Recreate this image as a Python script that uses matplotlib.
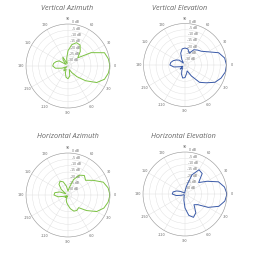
import numpy as np
import matplotlib
matplotlib.use("Agg")
import matplotlib.pyplot as plt

angles_deg = list(range(0, 360, 10))

vert_azimuth = [0, -0.8, -2.5, -12, -23, -18, -14, -13.5, -16, -21,
                -27, -31, -25, -27, -31, -25, -23, -21.5, -21, -23,
                -28, -32, -29, -28, -30, -27, -24, -23, -25, -30,
                -27, -22, -15, -7, -2.5, -0.8]
vert_elevation = [0, -1, -4.5, -12, -16, -17.5, -19, -23, -20, -19.5,
                  -20, -23, -28, -31, -27, -25, -23, -21.5, -21, -24,
                  -29, -31, -28, -30, -28, -25, -22.5, -23, -26, -28,
                  -23, -15, -11, -5.5, -2.5, -0.5]
horiz_azimuth = [0, -1, -3.5, -10, -15, -13, -15, -20, -27, -30,
                 -26, -22, -20.5, -22, -26, -31, -26, -22.5, -22, -25,
                 -30, -32, -30, -31, -32, -29, -27, -25, -22, -19.5,
                 -19, -20, -14, -7, -3, -1]
horiz_elevation = [0, -1.5, -5, -13, -19, -12, -11, -17, -27, -31,
                   -32, -32, -32, -32, -31, -29, -26, -23.5, -23, -26,
                   -30, -32, -32, -32, -32, -31, -28, -22, -16, -13.5,
                   -16, -22, -20, -12, -4.7, -1.2]

titles = ["Vertical Azimuth", "Vertical Elevation", "Horizontal Azimuth", "Horizontal Elevation"]
series = [vert_azimuth, vert_elevation, horiz_azimuth, horiz_elevation]
colors = ["#7cc243", "#3a5aa8", "#7cc243", "#3a5aa8"]

r_ticks = [0, -5, -10, -15, -20, -25, -30]
r_labels = ["0 dB", "-5 dB", "-10 dB", "-15 dB", "-20 dB", "-25 dB", "-30 dB"]
theta_ticks = [0, 30, 60, 90, 120, 150, 180, 210, 240, 270, 300, 330]
theta_labels = ["0", "30", "60", "90", "120", "150", "180", "-150", "-120", "-90", "-60", "-30"]

W = 259.0
layout = [(68, 66, 42), (185, 65, 41.5), (68, 195, 42), (185, 194, 42)]
title_pos = [(67, 8), (180, 8), (68, 137), (183, 137)]

fig = plt.figure(figsize=(2.59, 2.59), dpi=100)
fig.patch.set_facecolor("white")

for i in range(4):
    cx, cy, r = layout[i]
    ax = fig.add_axes([(cx - r) / W, (W - cy - r) / W, 2 * r / W, 2 * r / W], projection="polar")
    th = np.deg2rad(angles_deg + [angles_deg[0]])
    vals = series[i] + [series[i][0]]
    ax.plot(th, vals, color=colors[i], lw=0.7)
    ax.set_ylim(-33, 0)
    ax.set_yticks(r_ticks)
    ax.set_yticklabels(r_labels, fontsize=2.2, color="#666666")
    ax.set_rlabel_position(84)
    ax.set_thetagrids(theta_ticks, theta_labels, fontsize=2.4, color="#666666")
    ax.tick_params(axis="x", pad=-7)
    ax.grid(True, color="#dddddd", lw=0.3)
    ax.spines["polar"].set_color("#999999")
    ax.spines["polar"].set_linewidth(0.4)
    tx, ty = title_pos[i]
    fig.text(tx / W, 1 - ty / W, titles[i], ha="center", va="center",
             fontsize=5.2, style="italic", color="#666666", family="Open Sans")

fig.savefig("out.png", dpi=100)
